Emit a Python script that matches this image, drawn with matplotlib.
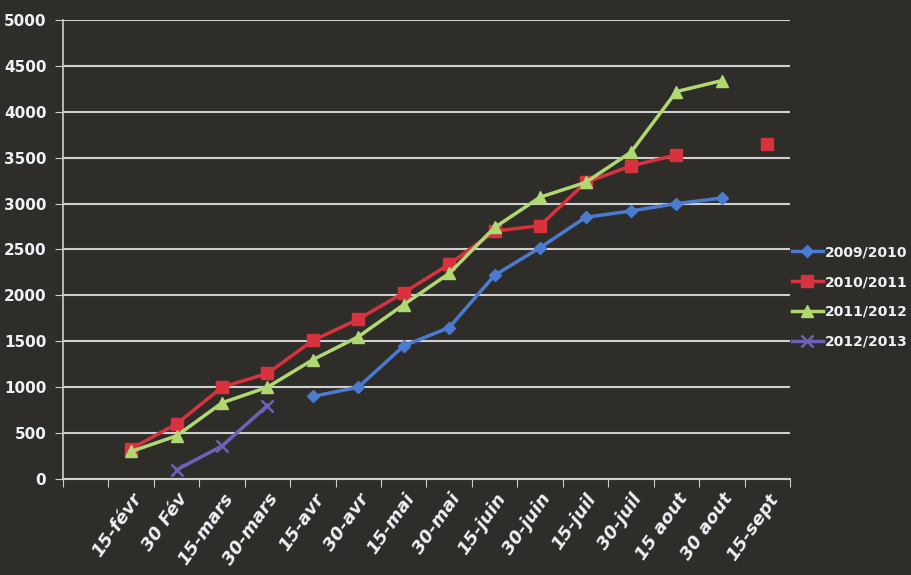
import numpy as np
import matplotlib
matplotlib.use("Agg")
import matplotlib.pyplot as plt

nan = np.nan
categories = ["", "15-févr", "30 Fév", "15-mars", "30-mars", "15-avr", "30-avr",
              "15-mai", "30-mai", "15-juin", "30-juin", "15-juil", "30-juil",
              "15 aout", "30 aout", "15-sept"]
s2009 = [nan, nan, nan, nan, nan, 900, 1000, 1450, 1650, 2220, 2520, 2850, 2920, 3000, 3060, nan]
s2010 = [nan, 330, 600, 1000, 1150, 1510, 1740, 2030, 2340, 2700, 2760, 3230, 3410, 3530, nan, 3650]
s2011 = [nan, 300, 470, 830, 1000, 1300, 1550, 1900, 2240, 2740, 3070, 3230, 3560, 4220, 4340, nan]
s2012 = [nan, nan, 100, 360, 800, nan, nan, nan, nan, nan, nan, nan, nan, nan, nan, nan]
series_names = ["2009/2010", "2010/2011", "2011/2012", "2012/2013"]
yticks = [0, 500, 1000, 1500, 2000, 2500, 3000, 3500, 4000, 4500, 5000]

bg = "#2f2d2a"
txt = "#eef2f6"
fig = plt.figure(figsize=(9.12, 5.75), dpi=100, facecolor=bg)
ax = fig.add_axes([63/912, 1-479/575, (790-63)/912, (479-20)/575], facecolor=bg)

x = np.arange(len(categories)) + 0.5
styles = [
    dict(color="#4a7bd0", marker="D", ms=6),
    dict(color="#d8323f", marker="s", ms=8),
    dict(color="#b0d870", marker="^", ms=8),
    dict(color="#7060b8", marker="x", ms=8, mew=1.8),
]
for vals, name, st in zip([s2009, s2010, s2011, s2012], series_names, styles):
    ax.plot(x, vals, lw=2.5, label=name, **st)

ax.set_xlim(0, len(categories))
ax.set_ylim(0, 5000)
ax.set_yticks(yticks)
ax.set_yticklabels([str(v) for v in yticks], color=txt, fontweight="bold", fontsize=11)
ax.yaxis.grid(True, color="#cfcfcf", lw=1.5)
ax.set_axisbelow(True)
ax.set_xticks(np.arange(len(categories) + 1))
ax.set_xticklabels([])
ax.set_xticks(x, minor=True)
ax.set_xticklabels(categories, minor=True, rotation=55, ha="right", rotation_mode="anchor",
                   color=txt, fontweight="bold", fontstyle="italic", fontsize=13)
ax.tick_params(axis="x", which="major", length=6, color="#cfcfcf", direction="out")
ax.tick_params(axis="x", which="minor", length=0, pad=8)
ax.tick_params(axis="y", length=6, color="#cfcfcf", pad=6)
for s in ["top", "right"]:
    ax.spines[s].set_visible(False)
ax.spines["left"].set_color("#cfcfcf")
ax.spines["bottom"].set_color("#cfcfcf")
ax.spines["left"].set_linewidth(1.2)
ax.spines["bottom"].set_linewidth(1.5)

leg = fig.legend(loc="center left", bbox_to_anchor=(792/912, 1-297/575), frameon=False,
                 fontsize=10, labelspacing=1.15, handlelength=2.2, handletextpad=0.15,
                 borderaxespad=0, borderpad=0)
for t in leg.get_texts():
    t.set_color(txt)
    t.set_fontweight("bold")

fig.savefig("out.png", dpi=100, facecolor=bg)
